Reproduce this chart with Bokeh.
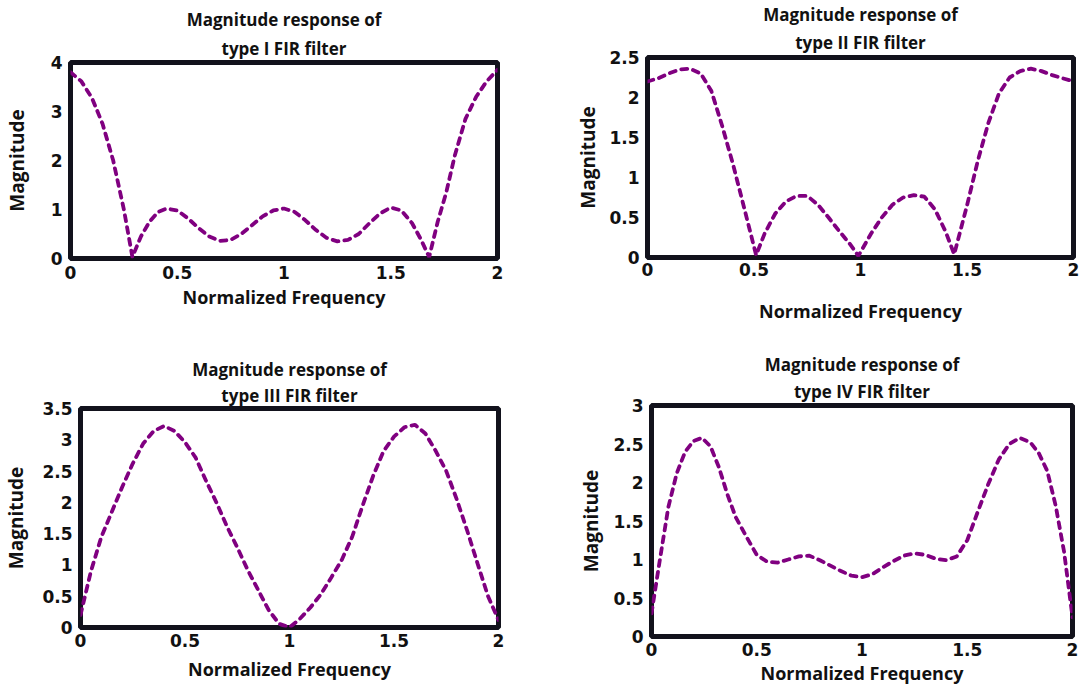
from bokeh.plotting import figure
from bokeh.layouts import column, row
from bokeh.models import Range1d, Title, FixedTicker
from bokeh.embed import file_html
from bokeh.resources import INLINE

# ---------------- data ----------------
x_ticks = [0, 0.5, 1, 1.5, 2]
x_tick_labels = ["0", "0.5", "1", "1.5", "2"]

# Type I
freq1 = [0, 0.05, 0.1, 0.15, 0.2, 0.25, 0.29, 0.33, 0.37, 0.41, 0.45, 0.5, 0.55, 0.6,
         0.65, 0.7, 0.75, 0.8, 0.85, 0.9, 0.95, 1.0, 1.05, 1.1, 1.15, 1.2, 1.25, 1.3,
         1.35, 1.4, 1.45, 1.5, 1.55, 1.6, 1.64, 1.68, 1.72, 1.76, 1.8, 1.85, 1.9, 1.95, 2.0]
mag1 = [3.80, 3.62, 3.28, 2.75, 2.00, 1.00, 0.03, 0.45, 0.75, 0.95, 1.02, 0.98, 0.82, 0.62,
        0.45, 0.36, 0.38, 0.50, 0.68, 0.86, 0.98, 1.02, 0.95, 0.78, 0.58, 0.42, 0.35, 0.38,
        0.50, 0.72, 0.92, 1.04, 0.98, 0.72, 0.40, 0.03, 0.75, 1.35, 2.10, 2.85, 3.30, 3.62, 3.85]
y_ticks1 = [0, 1, 2, 3, 4]
y_tick_labels1 = ["0", "1", "2", "3", "4"]

# Type II
freq2 = [0, 0.05, 0.1, 0.15, 0.2, 0.25, 0.3, 0.35, 0.4, 0.45, 0.51, 0.55, 0.6, 0.65, 0.7,
         0.75, 0.8, 0.85, 0.9, 0.95, 0.99, 1.05, 1.1, 1.15, 1.2, 1.25, 1.3, 1.35, 1.4, 1.44,
         1.5, 1.55, 1.6, 1.65, 1.7, 1.75, 1.8, 1.85, 1.9, 1.95, 2.0]
mag2 = [2.20, 2.24, 2.30, 2.35, 2.36, 2.30, 2.08, 1.65, 1.18, 0.66, 0.03, 0.30, 0.55, 0.70,
        0.77, 0.77, 0.66, 0.50, 0.33, 0.17, 0.02, 0.30, 0.50, 0.66, 0.75, 0.78, 0.76, 0.60,
        0.32, 0.04, 0.65, 1.20, 1.68, 2.05, 2.25, 2.33, 2.36, 2.33, 2.28, 2.24, 2.20]
y_ticks2 = [0, 0.5, 1, 1.5, 2, 2.5]
y_tick_labels2 = ["0", "0.5", "1", "1.5", "2", "2.5"]

# Type III
freq3 = [0, 0.05, 0.1, 0.15, 0.2, 0.25, 0.3, 0.35, 0.4, 0.45, 0.5, 0.55, 0.6, 0.65, 0.7,
         0.75, 0.8, 0.85, 0.9, 0.95, 1.0, 1.05, 1.1, 1.15, 1.2, 1.25, 1.3, 1.35, 1.4, 1.45,
         1.5, 1.55, 1.6, 1.65, 1.7, 1.75, 1.8, 1.85, 1.9, 1.95, 2.0]
mag3 = [0.20, 0.90, 1.45, 1.85, 2.25, 2.62, 2.94, 3.14, 3.22, 3.14, 2.96, 2.72, 2.35, 2.00,
        1.62, 1.28, 0.92, 0.60, 0.28, 0.06, 0.00, 0.14, 0.32, 0.53, 0.80, 1.08, 1.45, 1.95,
        2.42, 2.82, 3.05, 3.20, 3.24, 3.10, 2.82, 2.50, 2.05, 1.55, 1.02, 0.50, 0.12]
y_ticks3 = [0, 0.5, 1, 1.5, 2, 2.5, 3, 3.5]
y_tick_labels3 = ["0", "0.5", "1", "1.5", "2", "2.5", "3", "3.5"]

# Type IV
freq4 = [0, 0.04, 0.08, 0.12, 0.16, 0.2, 0.24, 0.28, 0.32, 0.36, 0.4, 0.45, 0.5, 0.55, 0.6,
         0.65, 0.7, 0.75, 0.8, 0.85, 0.9, 0.95, 1.0, 1.05, 1.1, 1.15, 1.2, 1.25, 1.3, 1.35,
         1.4, 1.45, 1.5, 1.55, 1.6, 1.65, 1.7, 1.75, 1.8, 1.84, 1.88, 1.92, 1.96, 2.0]
mag4 = [0.30, 1.00, 1.68, 2.12, 2.40, 2.54, 2.58, 2.47, 2.20, 1.85, 1.55, 1.30, 1.06, 0.97,
        0.96, 1.00, 1.04, 1.05, 0.99, 0.92, 0.85, 0.79, 0.77, 0.81, 0.90, 0.98, 1.05, 1.08,
        1.06, 1.01, 0.99, 1.04, 1.25, 1.62, 1.98, 2.30, 2.50, 2.58, 2.52, 2.38, 2.15, 1.70,
        1.10, 0.25]
y_ticks4 = [0, 0.5, 1, 1.5, 2, 2.5, 3]
y_tick_labels4 = ["0", "0.5", "1", "1.5", "2", "2.5", "3"]

titles = [("Magnitude response of", "type I FIR filter"),
          ("Magnitude response of", "type II FIR filter"),
          ("Magnitude response of", "type III FIR filter"),
          ("Magnitude response of", "type IV FIR filter")]

# ---------------- styling / layout ----------------
LINE_COLOR = "#800080"
FRAME_COLOR = "#12121c"
TITLE_FONT = "Open Sans"
LABEL_FONT = "Open Sans"
TICK_FONT = "DejaVu Sans"

layouts = [
    dict(w=560, h=340, left=66, right=63, top=62, bottom=82, xs=7, xls=3, yls=18, ts=6, tts=2),
    dict(w=525, h=340, left=87, right=12, top=57, bottom=83, xs=5, xls=20, yls=5, ts=7, tts=0),
    dict(w=560, h=347, left=80, right=62, top=68, bottom=60, xs=6, xls=7, yls=10, ts=3, tts=0),
    dict(w=525, h=347, left=91, right=13, top=65, bottom=49, xs=6, xls=2, yls=6, ts=5, tts=0),
]

datasets = [
    (freq1, mag1, 4, y_ticks1, y_tick_labels1),
    (freq2, mag2, 2.5, y_ticks2, y_tick_labels2),
    (freq3, mag3, 3.5, y_ticks3, y_tick_labels3),
    (freq4, mag4, 3, y_ticks4, y_tick_labels4),
]

figs = []
for (fx, fy, ymax, yt, ytl), (t1, t2), L in zip(datasets, titles, layouts):
    p = figure(width=L["w"], height=L["h"], output_backend="svg", toolbar_location=None,
               x_range=Range1d(0, 2), y_range=Range1d(0, ymax),
               min_border_left=L["left"], min_border_right=L["right"],
               min_border_top=L["top"], min_border_bottom=L["bottom"])
    # top line of the title
    p.title.text = t1
    p.title.align = "center"
    p.title.text_font = TITLE_FONT
    p.title.text_font_size = "17px"
    p.title.text_font_style = "bold"
    p.title.text_color = "#111111"
    p.title.standoff = L["tts"]
    # second line, nearest the frame
    near_title = Title(text=t2, align="center", text_font=TITLE_FONT, text_font_size="17px",
                       text_font_style="bold", text_color="#111111", standoff=L["ts"])
    p.add_layout(near_title, "above")

    p.line(fx, fy, line_color=LINE_COLOR, line_width=3.8, line_dash="6 6", line_cap="round")

    p.xgrid.visible = False
    p.ygrid.visible = False
    p.outline_line_color = FRAME_COLOR
    p.outline_line_width = 5
    p.background_fill_color = "white"
    p.border_fill_color = "white"

    p.xaxis.ticker = FixedTicker(ticks=x_ticks)
    p.xaxis.major_label_overrides = dict(zip(x_ticks, x_tick_labels))
    p.yaxis.ticker = FixedTicker(ticks=yt)
    p.yaxis.major_label_overrides = dict(zip(yt, ytl))

    for ax in (p.xaxis[0], p.yaxis[0]):
        ax.axis_line_color = None
        ax.major_tick_line_color = None
        ax.minor_tick_line_color = None
        ax.major_tick_out = 0
        ax.major_tick_in = 0
        ax.major_label_text_font = TICK_FONT
        ax.major_label_text_font_style = "bold"
        ax.major_label_text_font_size = "17px"
        ax.major_label_text_color = "#111111"
        ax.axis_label_text_font = LABEL_FONT
        ax.axis_label_text_font_style = "bold"
        ax.axis_label_text_color = "#111111"

    p.xaxis.axis_label = "Normalized Frequency"
    p.xaxis.axis_label_text_font_size = "18px"
    p.xaxis.major_label_standoff = L["xs"]
    p.xaxis.axis_label_standoff = L["xls"]
    p.yaxis.axis_label = "Magnitude"
    p.yaxis.axis_label_text_font_size = "19px"
    p.yaxis.major_label_standoff = 8
    p.yaxis.axis_label_standoff = L["yls"]
    figs.append(p)

# each figure wrapped on its own so that frames are not aligned across a row
layout = column(row(column(figs[0]), column(figs[1])),
                row(column(figs[2]), column(figs[3])))
open("out.html", "w").write(file_html(layout, INLINE))
